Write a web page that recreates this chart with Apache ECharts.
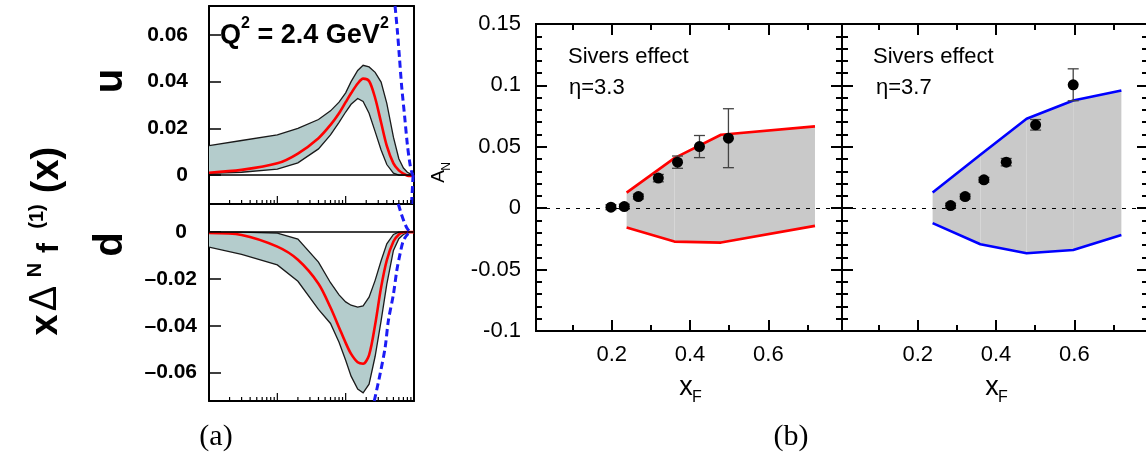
<!DOCTYPE html>
<html><head><meta charset="utf-8">
<script src="https://cdn.jsdelivr.net/npm/echarts@6/dist/echarts.min.js"></script>
<style>html,body{margin:0;padding:0;background:#fff}#c{width:1146px;height:454px}</style>
</head><body><div id="c"></div><script>
// ---------------- Panel (a): first moments of Sivers functions (log x) ----------------
const xA = [0.001,0.003,0.01,0.02,0.04,0.06,0.08,0.1,0.12,0.15,0.18,0.22,0.27,0.33,0.4,0.5,0.6,0.7,0.8,0.9,1.0];
const uUpper   = [0.0126,0.0148,0.0172,0.0200,0.0238,0.0275,0.0312,0.0352,0.0400,0.0448,0.0470,0.0463,0.0440,0.0398,0.0307,0.0162,0.0070,0.0030,0.0012,0.0004,0];
const uLower   = [0.0007,0.0012,0.0025,0.0052,0.0112,0.0172,0.0226,0.0270,0.0303,0.0328,0.0315,0.0265,0.0186,0.0107,0.0045,0.0008,0,0,0,0,0];
const uCentral = [0.0010,0.0022,0.0050,0.0092,0.0158,0.0215,0.0265,0.0312,0.0350,0.0392,0.0413,0.0403,0.0330,0.0225,0.0125,0.0050,0.0020,0.0006,-0.0003,-0.0004,0];
const dUpper   = [0,0,-0.0004,-0.0030,-0.0128,-0.0216,-0.0268,-0.0298,-0.0312,-0.0320,-0.0315,-0.0278,-0.0206,-0.0122,-0.0050,-0.0010,0,0,0,0,0];
const dLower   = [-0.0064,-0.0095,-0.0140,-0.0210,-0.0330,-0.0390,-0.0470,-0.0547,-0.0615,-0.0670,-0.0686,-0.0649,-0.0530,-0.0379,-0.0222,-0.0078,-0.0028,-0.0010,-0.0002,0,0];
const dCentral = [-0.0004,-0.0012,-0.0062,-0.0118,-0.0220,-0.0322,-0.0407,-0.0473,-0.0520,-0.0556,-0.0562,-0.0525,-0.0395,-0.0236,-0.0120,-0.0040,-0.0010,-0.0001,0,0,0];
const uBoundPos = [[0.528,0.0724],[0.57,0.062],[0.61,0.051],[0.66,0.038],[0.73,0.025],[0.80,0.013],[0.87,0.005],[0.93,0.001],[0.97,0]];
const uBoundNeg = [[0.92,-0.0124],[0.95,-0.005],[0.97,0]];
const dBoundPos = [[0.59,0.012],[0.65,0.0079],[0.72,0.0043],[0.80,0.0014],[0.89,0]];
const dBoundNeg = [[0.262,-0.0721],[0.318,-0.0608],[0.378,-0.0493],[0.421,-0.0379],[0.50,-0.0265],[0.56,-0.0164],[0.625,-0.0093],[0.70,-0.0036],[0.82,-0.0007],[0.93,0]];
const uTicks = [0,0.02,0.04,0.06];
const uTickLabels = ['0','0.02','0.04','0.06'];
const dTicks = [-0.06,-0.04,-0.02,0];
const dTickLabels = ['\u20130.06','\u20130.04','\u20130.02','0'];
const logMajorTicks = [0.01,0.1];
const logMinorTicks = [0.002,0.003,0.004,0.005,0.006,0.007,0.008,0.009,0.02,0.03,0.04,0.05,0.06,0.07,0.08,0.09,0.2,0.3,0.4,0.5,0.6,0.7,0.8,0.9];

// ---------------- Panel (b): A_N vs x_F ----------------
const band33X     = [0.238,0.36,0.479,0.719];
const band33Upper = [0.0127,0.0408,0.0598,0.0666];
const band33Lower = [-0.0158,-0.0272,-0.0280,-0.0144];
const pts33X   = [0.198,0.232,0.268,0.319,0.368,0.424,0.498];
const pts33Y   = [0.0008,0.0013,0.0095,0.0245,0.0375,0.0502,0.0570];
const pts33Err = [0.002,0.002,0.002,0.003,0.005,0.009,0.024];
const band37X     = [0.238,0.36,0.478,0.597,0.72];
const band37Upper = [0.0127,0.0435,0.0728,0.0877,0.0959];
const band37Lower = [-0.0122,-0.0294,-0.0367,-0.0340,-0.0218];
const pts37X   = [0.284,0.321,0.369,0.426,0.501,0.597];
const pts37Y   = [0.0021,0.0095,0.0231,0.0375,0.0679,0.1005];
const pts37Err = [0.002,0.002,0.002,0.003,0.0043,0.013];
const xTicksB = [0.2,0.4,0.6];
const xTickLabelsB = ['0.2','0.4','0.6'];
const xMinorB = [0.1,0.3,0.5,0.7];
const yTicksB = [-0.1,-0.05,0,0.05,0.1,0.15];
const yTickLabelsB = ['-0.1','-0.05','0','0.05','0.1','0.15'];
const yMinorB = [-0.09,-0.08,-0.07,-0.06,-0.04,-0.03,-0.02,-0.01,0.01,0.02,0.03,0.04,0.06,0.07,0.08,0.09,0.11,0.12,0.13,0.14];
const XMIN_B = 0.0066, XMAX_B = 0.788, YMIN_B = -0.1, YMAX_B = 0.15;
const YA0 = [-0.0124, 0.0724], YA1 = [-0.0721, 0.012];

// ---------------- helpers ----------------
const SANS = '"Liberation Sans", Arial, Helvetica, sans-serif';
const LINE = {show:true, onZero:false, lineStyle:{color:'#000', width:2}};
function ax(o){ return Object.assign({axisLine:LINE, axisTick:{show:false}, axisLabel:{show:false}, splitLine:{show:false}, splitArea:{show:false}}, o); }
function tick(values, len, width){ return {show:true, inside:true, length:len, customValues:values, lineStyle:{color:'#000', width:width}}; }
function lab(values, labels){ return v => { const i = values.findIndex(t => Math.abs(t - v) < 1e-9); return i < 0 ? '' : labels[i]; }; }
function pairs(xs, ys){ return xs.map((x,i) => [x, ys[i]]); }

const xAxis = [], yAxis = [];
// panel a
xAxis.push(ax({gridIndex:0, type:'log', logBase:10, position:'bottom', min:0.001, max:1}));   //0
xAxis.push(ax({gridIndex:0, type:'log', logBase:10, position:'top', min:0.001, max:1}));      //1
xAxis.push(ax({gridIndex:1, type:'log', logBase:10, position:'bottom', min:0.001, max:1}));   //2
xAxis.push(ax({gridIndex:1, type:'log', logBase:10, position:'top', min:0.001, max:1}));      //3
const labA = {show:true, fontSize:21, fontWeight:'bold', fontFamily:SANS, color:'#000'};
yAxis.push(ax({gridIndex:0, type:'value', position:'left', min:YA0[0], max:YA0[1], axisTick:tick(uTicks,12,1.5),
  axisLabel:Object.assign({}, labA, {customValues:uTicks, formatter:lab(uTicks,uTickLabels), margin:21})}));   //0
yAxis.push(ax({gridIndex:0, type:'value', position:'right', min:YA0[0], max:YA0[1]}));        //1
const dLab = lab(dTicks, dTickLabels);
yAxis.push(ax({gridIndex:1, type:'value', position:'left', min:YA1[0], max:YA1[1], axisTick:tick(dTicks,12,1.5),
  axisLabel:Object.assign({}, labA, {customValues:dTicks, margin:12,
    formatter: v => { const s = dLab(v); return s === '0' ? '{z|0}' : s; },
    rich:{z:{padding:[0,10,0,0], fontSize:21, fontWeight:'bold', fontFamily:SANS, color:'#000'}}})}));       //2
yAxis.push(ax({gridIndex:1, type:'value', position:'right', min:YA1[0], max:YA1[1]}));        //3
// panel b
const labB = {show:true, fontSize:22, fontFamily:SANS, color:'#000'};
function panelBAxes(g, showY){
  const xi = xAxis.length, yi = yAxis.length;
  xAxis.push(ax({gridIndex:g, type:'value', position:'bottom', min:XMIN_B, max:XMAX_B, axisTick:tick(xTicksB,11,2),
    axisLabel:Object.assign({}, labB, {customValues:xTicksB, formatter:lab(xTicksB,xTickLabelsB), margin:13})}));
  xAxis.push(ax({gridIndex:g, type:'value', position:'bottom', min:XMIN_B, max:XMAX_B, axisTick:tick(xMinorB,6,2)}));
  xAxis.push(ax({gridIndex:g, type:'value', position:'top', min:XMIN_B, max:XMAX_B, axisTick:tick(xTicksB,11,2)}));
  xAxis.push(ax({gridIndex:g, type:'value', position:'top', min:XMIN_B, max:XMAX_B, axisTick:tick(xMinorB,6,2)}));
  yAxis.push(ax({gridIndex:g, type:'value', position:'left', min:YMIN_B, max:YMAX_B, axisTick:tick(yTicksB,11,2),
    axisLabel: showY ? Object.assign({}, labB, {customValues:yTicksB, formatter:lab(yTicksB,yTickLabelsB), margin:15}) : {show:false}}));
  yAxis.push(ax({gridIndex:g, type:'value', position:'left', min:YMIN_B, max:YMAX_B, axisTick:tick(yMinorB,6,2)}));
  yAxis.push(ax({gridIndex:g, type:'value', position:'right', min:YMIN_B, max:YMAX_B, axisTick:tick(yTicksB,11,2)}));
  yAxis.push(ax({gridIndex:g, type:'value', position:'right', min:YMIN_B, max:YMAX_B, axisTick:tick(yMinorB,6,2)}));
  return [xi, yi];
}
const [xb1, yb1] = panelBAxes(2, true);
const [xb2, yb2] = panelBAxes(3, false);

// ---------------- series ----------------
const series = [];
function panelA(xi, yi, lower, upper, central, bounds){
  // uncertainty band: one polygon (upper forward, lower back) plus its two black edges
  series.push({type:'custom', xAxisIndex:xi, yAxisIndex:yi, silent:true, z:2, clip:true,
    data: xA.map((x,i) => [x, upper[i], lower[i]]),
    renderItem:(p, api) => {
      if (p.dataIndex !== 0) return null;
      const up = xA.map((x,i) => api.coord([x, upper[i]]));
      const lo = xA.map((x,i) => api.coord([x, lower[i]]));
      const edge = {stroke:'#1a1a1a', lineWidth:1.3, fill:null};
      return {type:'group', children:[
        {type:'polygon', shape:{points:up.concat(lo.slice().reverse())}, style:{fill:'#b4cccc'}},
        {type:'polyline', shape:{points:up}, style:edge},
        {type:'polyline', shape:{points:lo}, style:edge}]};
    }});
  series.push({type:'line', xAxisIndex:xi, yAxisIndex:yi, data:pairs(xA, central), smooth:0.3, symbol:'none',
    lineStyle:{color:'#ff0000', width:2.6}, z:4,
    markLine:{silent:true, symbol:'none', label:{show:false}, lineStyle:{color:'#000', width:1.5, type:'solid'}, data:[{yAxis:0}]}});
  bounds.forEach(b => series.push({type:'line', xAxisIndex:xi, yAxisIndex:yi, data:b, smooth:0.3, symbol:'none',
    lineStyle:{color:'#1c1cf5', width:3, type:[7,4]}, z:5}));
}
panelA(0, 0, uLower, uUpper, uCentral, [uBoundPos, uBoundNeg]);
panelA(2, 2, dLower, dUpper, dCentral, [dBoundPos, dBoundNeg]);
function logTicks(xi, yi, yMin, values, len){
  series.push({type:'custom', xAxisIndex:xi, yAxisIndex:yi, silent:true, z:8, data:values.map(v => [v, yMin]),
    renderItem:(p, api) => { const c = api.coord([api.value(0), api.value(1)]);
      return {type:'line', shape:{x1:c[0], y1:c[1], x2:c[0], y2:c[1] - len}, style:{stroke:'#000', lineWidth:1.2}}; }});
}
logTicks(0, 0, YA0[0], logMajorTicks, 8); logTicks(0, 0, YA0[0], logMinorTicks, 4);
logTicks(2, 2, YA1[0], logMajorTicks, 8); logTicks(2, 2, YA1[0], logMinorTicks, 4);

function panelB(xi, yi, bx, bu, bl, color, px, py, pe){
  series.push({type:'custom', xAxisIndex:xi, yAxisIndex:yi, silent:true, z:1,
    data: bx.slice(0, -1).map((x,i) => [x, bu[i], bx[i+1], bu[i+1], bl[i+1], bl[i]]),
    renderItem:(p, api) => {
      const pts = [api.coord([api.value(0), api.value(1)]), api.coord([api.value(2), api.value(3)]),
                   api.coord([api.value(2), api.value(4)]), api.coord([api.value(0), api.value(5)])];
      return {type:'polygon', shape:{points:pts}, style:{fill:'#c9c9c9'}}; }});
  series.push({type:'line', xAxisIndex:xi, yAxisIndex:yi, data:pairs(bx, bu), symbol:'none', lineStyle:{color:color, width:2.6}, z:4,
    markLine:{silent:true, symbol:'none', label:{show:false}, lineStyle:{color:'#000', width:1, type:[4,6]}, data:[{yAxis:0}]}});
  series.push({type:'line', xAxisIndex:xi, yAxisIndex:yi, data:pairs(bx, bl), symbol:'none', lineStyle:{color:color, width:2.6}, z:4});
  series.push({type:'custom', xAxisIndex:xi, yAxisIndex:yi, silent:true, z:6,
    data: px.map((x,i) => [x, py[i], pe[i]]),
    renderItem:(p, api) => {
      const x = api.value(0), y = api.value(1), e = api.value(2);
      const t = api.coord([x, y + e]), b = api.coord([x, y - e]), w = 5.5;
      const st = {stroke:'#444', lineWidth:1.3};
      return {type:'group', children:[
        {type:'line', shape:{x1:t[0], y1:t[1], x2:b[0], y2:b[1]}, style:st},
        {type:'line', shape:{x1:t[0]-w, y1:t[1], x2:t[0]+w, y2:t[1]}, style:st},
        {type:'line', shape:{x1:b[0]-w, y1:b[1], x2:b[0]+w, y2:b[1]}, style:st}]}; }});
  series.push({type:'scatter', xAxisIndex:xi, yAxisIndex:yi, data:pairs(px, py), symbol:'circle', symbolSize:11,
    itemStyle:{color:'#000', opacity:1}, z:7});
}
panelB(xb1, yb1, band33X, band33Upper, band33Lower, '#ff0000', pts33X, pts33Y, pts33Err);
panelB(xb2, yb2, band37X, band37Upper, band37Lower, '#0000ff', pts37X, pts37Y, pts37Err);

// ---------------- text ----------------
const R = Math.PI / 2;
function txt(text, x, y, font, align, rot){
  return {type:'text', x:x, y:y, rotation:rot || 0, silent:true, z:20,
    style:{text:text, font:font, fill:'#000', align:align || 'left', verticalAlign:'middle'}};
}
const B = s => 'bold ' + s + 'px ' + SANS;
const N = s => s + 'px ' + SANS;
const graphic = [
  txt('Q', 220, 36, B(27)), txt('2', 241, 24, B(16)), txt(' = 2.4 GeV', 250, 36, B(27)), txt('2', 380, 24, B(16)),
  txt('u', 111, 81, B(40), 'center', R), txt('d', 111, 244.5, B(40), 'center', R),
  txt('x', 46.6, 325, B(38), 'center', R), txt('\u0394', 46, 298.5, N(38), 'center', R),
  txt('N', 35.5, 270, B(20), 'center', R), txt('f', 50, 248, B(30), 'center', R),
  txt('(1)', 37, 216.5, B(20), 'center', R), txt('(x)', 48, 170, B(38), 'center', R),
  txt('Sivers effect', 568, 57, N(22)), txt('\u03b7=3.3', 569, 88, N(22)),
  txt('Sivers effect', 873, 57, N(22)), txt('\u03b7=3.7', 876, 88, N(22)),
  txt('x', 686, 387.5, N(27), 'center'), txt('F', 697, 398, N(16), 'center'),
  txt('x', 992, 387.5, N(27), 'center'), txt('F', 1003, 398, N(16), 'center'),
  txt('A', 438.5, 176.5, N(19), 'center', R), txt('N', 446.5, 166.5, N(12), 'center', R),
  txt('(a)', 216, 437, '30px "Liberation Serif", "Times New Roman", serif', 'center'),
  txt('(b)', 791, 437, '30px "Liberation Serif", "Times New Roman", serif', 'center')
];

const chart = echarts.init(document.getElementById('c'), null, {renderer:'canvas', width:1146, height:454});
chart.setOption({
  animation:false,
  backgroundColor:'#fff',
  textStyle:{fontFamily:SANS},
  grid:[
    {left:209, top:6, width:205, height:198, containLabel:false, outerBoundsMode:'none'},
    {left:209, top:204, width:205, height:197, containLabel:false, outerBoundsMode:'none'},
    {left:536, top:24, width:306, height:307, containLabel:false, outerBoundsMode:'none'},
    {left:842, top:24, width:306, height:307, containLabel:false, outerBoundsMode:'none'}
  ],
  xAxis:xAxis, yAxis:yAxis, series:series, graphic:graphic
});
</script></body></html>
